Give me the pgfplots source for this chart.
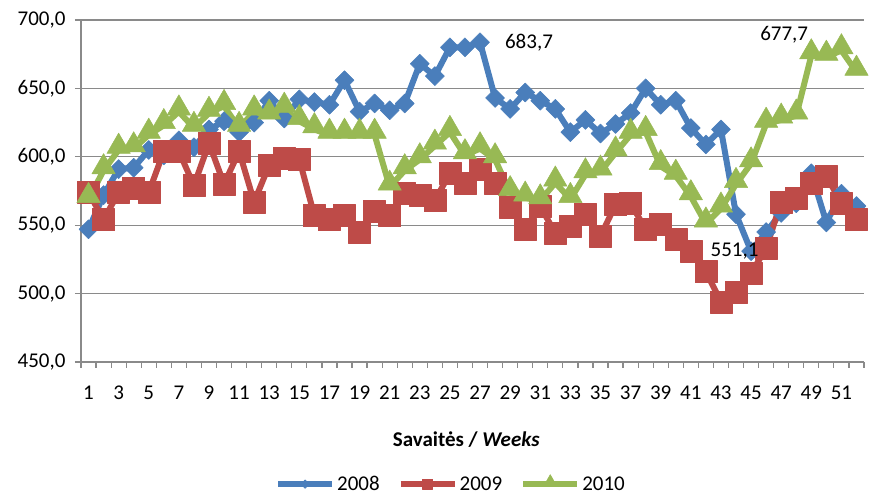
\documentclass[border=0pt]{standalone}
\usepackage{fontspec}
\setmainfont{Carlito}
\usepackage{pgfplots}
\pgfplotsset{compat=1.18}
\definecolor{c08}{HTML}{4A7EBB}
\definecolor{c09}{HTML}{BE4B48}
\definecolor{c10}{HTML}{98B954}
\definecolor{gridc}{HTML}{8A8A8A}
\begin{document}
\begin{tikzpicture}[font=\fontsize{21}{25}\selectfont]
\useasboundingbox (-81pt,-135pt) rectangle (789pt,362pt);
\begin{axis}[
  at={(0pt,0pt)}, anchor=south west, scale only axis,
  width=783pt, height=342pt,
  xmin=0.5, xmax=52.5, ymin=450, ymax=700,
  xtick={1,3,...,51},
  minor xtick={0.5,1.5,...,52.5},
  ytick={450,500,...,700},
  tick align=outside, major tick length=6pt, minor tick length=6pt,
  major x tick style={draw=none},
  tick style={gridc, line width=1.2pt},
  axis x line*=bottom, axis y line*=left,
  axis line style={gridc, line width=1.5pt, -},
  ymajorgrids, grid style={gridc, line width=1.2pt},
  /pgf/number format/assume math mode=true,
  yticklabel style={/pgf/number format/fixed, /pgf/number format/fixed zerofill, /pgf/number format/precision=1, /pgf/number format/use comma},
  xticklabel shift=14pt,
  yticklabel shift=6pt,
  xlabel={\textbf{Savaitės / \textit{Weeks}}},
  xlabel style={at={(axis description cs:0.492,-0.228)}, anchor=center},
  clip=false,
  legend columns=3,
  legend style={at={(axis description cs:0.4725,-0.357)}, anchor=center, draw=none, fill=none,
    /tikz/every even column/.append style={column sep=16pt}},
  legend image code/.code={%
    \draw[#1] (0pt,0pt) -- (54pt,0pt);
    \draw[#1, every mark/.append style={scale=0.45}] plot coordinates {(27pt,0pt)};},
  every axis plot/.append style={line width=6pt, line join=round},
]
\addplot[c08, mark=diamond*, mark size=9.5pt, mark options={solid, fill=c08, draw=c08, xscale=1.33, line width=0.5pt}] coordinates {
(1,547)(2,572)(3,591)(4,592)(5,605)(6,601)(7,612)(8,607)(9,620)(10,626)
(11,618)(12,625)(13,641)(14,628)(15,642)(16,640)(17,638)(18,656)(19,633)(20,639)
(21,634)(22,639)(23,668)(24,659)(25,680)(26,680)(27,683.7)(28,643)(29,635)(30,647)
(31,641)(32,635)(33,618)(34,627)(35,617)(36,624)(37,632)(38,650)(39,638)(40,641)
(41,621)(42,609)(43,620)(44,558)(45,531)(46,545)(47,559)(48,566)(49,588)(50,552)
(51,573)(52,564)};
\addlegendentry{2008}
\addplot[c09, mark=square*, mark size=11pt, mark options={solid, fill=c09, draw=c09, line width=0.5pt}] coordinates {
(1,574)(2,554)(3,574)(4,577)(5,574)(6,604)(7,604)(8,579)(9,610)(10,580)
(11,604)(12,567)(13,594)(14,599)(15,598)(16,557)(17,554)(18,557)(19,545)(20,560)
(21,557)(22,573)(23,572)(24,568)(25,588)(26,581)(27,591)(28,581)(29,563)(30,547)
(31,564)(32,544)(33,549)(34,558)(35,542)(36,565)(37,566)(38,547)(39,551)(40,540)
(41,531)(42,516)(43,494)(44,501)(45,515)(46,533)(47,567)(48,570)(49,581)(50,586)
(51,566)(52,554)};
\addlegendentry{2009}
\addplot[c10, mark=triangle*, mark size=13.5pt, mark options={solid, fill=c10, draw=c10, yshift=3.4pt, line width=0.5pt}] coordinates {
(1,569)(2,590)(3,605)(4,606)(5,616)(6,623)(7,633)(8,621)(9,632)(10,637)
(11,621)(12,633)(13,630)(14,635)(15,626)(16,620)(17,616)(18,616)(19,616)(20,616)
(21,578)(22,590)(23,598)(24,608)(25,618)(26,601)(27,606)(28,598)(29,574)(30,570)
(31,568)(32,581)(33,569)(34,587)(35,589)(36,603)(37,616)(38,618)(39,593)(40,586)
(41,571)(42,551.1)(43,562)(44,580)(45,595)(46,624)(47,627)(48,630)(49,674)(50,673)
(51,677.7)(52,662)};
\addlegendentry{2010}
\coordinate (L1) at (axis cs:30.25,683.6);
\coordinate (L2) at (axis cs:47.2,689.4);
\coordinate (L3) at (axis cs:43.9,531);
\end{axis}
\node at (L1) {683,7};
\node at (L2) {677,7};
\node at (L3) {551,1};
\end{tikzpicture}
\end{document}
